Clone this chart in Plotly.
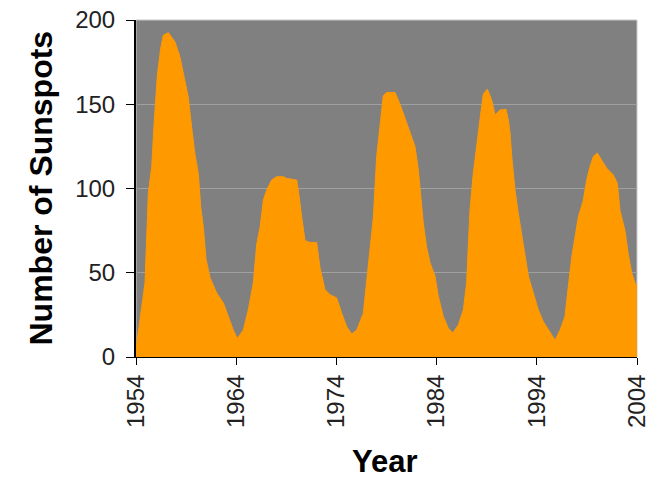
import plotly.graph_objects as go

years = [1954.0, 1954.07, 1954.40, 1954.90, 1955.23, 1955.57, 1955.80, 1956.13, 1956.46, 1956.73,
         1957.23, 1957.89, 1958.39, 1958.89, 1959.22, 1959.56, 1959.89, 1960.22, 1960.46, 1960.72,
         1960.99, 1961.39, 1962.05, 1962.72, 1963.21, 1963.71, 1964.11, 1964.71, 1965.21, 1965.71,
         1966.05, 1966.38, 1966.71, 1967.04, 1967.54, 1968.04, 1968.70, 1969.04, 1970.04, 1970.20,
         1970.54, 1970.87, 1971.37, 1972.03, 1972.36, 1972.86, 1973.36, 1974.03, 1974.53, 1975.03,
         1975.53, 1976.03, 1976.69, 1977.02, 1977.35, 1977.69, 1978.02, 1978.35, 1978.68, 1979.02,
         1979.85, 1980.35, 1980.85, 1981.35, 1981.84, 1982.18, 1982.34, 1982.68, 1983.01, 1983.34,
         1983.84, 1984.17, 1984.67, 1985.17, 1985.61, 1986.17, 1986.67, 1987.00, 1987.17, 1987.33,
         1987.66, 1988.00, 1988.33, 1988.66, 1989.06, 1989.50, 1989.83, 1990.33, 1990.93, 1991.16,
         1991.33, 1991.50, 1991.83, 1992.16, 1992.49, 1992.82, 1993.16, 1993.65, 1994.15, 1994.65,
         1995.15, 1995.82, 1996.32, 1996.81, 1997.15, 1997.48, 1997.81, 1998.14, 1998.64, 1998.98,
         1999.31, 1999.64, 2000.04, 2000.48, 2000.98, 2001.64, 2002.04, 2002.30, 2002.80, 2003.13,
         2003.47, 2003.80, 2004.0]
sunspots = [5, 8, 21, 44, 97, 113, 138, 167, 183, 191,
            192.5, 187, 178, 164, 154, 136, 120, 109, 89, 77,
            58, 47, 38, 32, 24, 16, 11, 16, 28, 44,
            67, 77, 93, 99, 105, 107, 107, 106, 105, 99,
            83, 69, 68, 68, 53, 40, 37, 35, 26, 18,
            13.6, 16, 26, 44, 63, 83, 119, 138, 155, 157,
            157, 150, 142, 133, 125, 111, 99, 79, 65, 56,
            48, 36, 24, 17, 14.3, 19, 28, 44, 67, 87,
            109, 127, 141, 156, 159, 152.5, 143.6, 146.6, 147, 140.6,
            133, 119, 99, 85, 73, 61, 48, 38, 28, 21,
            16, 10, 16, 24, 42, 59, 71, 83, 93, 105,
            113, 119, 121, 117, 112, 108, 103, 87, 75, 61,
            50, 44, 42]
x_ticks = [1954, 1964, 1974, 1984, 1994, 2004]
y_ticks = [0, 50, 100, 150, 200]

font_family = "Liberation Sans, Arial, sans-serif"

fig = go.Figure()
fig.add_trace(go.Scatter(
    x=years, y=sunspots, mode="lines", fill="tozeroy",
    line=dict(color="#FF9900", width=1), fillcolor="#FF9900",
    hoverinfo="skip", showlegend=False,
))

fig.update_layout(
    width=652, height=482,
    margin=dict(l=136, r=15, t=20, b=125),
    paper_bgcolor="white", plot_bgcolor="#808080",
    font=dict(family=font_family, color="black", size=24),
    xaxis=dict(
        range=[1954, 2004], tickvals=x_ticks, ticktext=[str(v) for v in x_ticks],
        tickangle=-90, ticks="outside", ticklen=7, tickcolor="black", tickwidth=1,
        showline=True, linecolor="black", linewidth=1, showgrid=False, zeroline=False,
        tickfont=dict(size=24, color="#222222"), automargin=False,
    ),
    yaxis=dict(
        range=[0, 200], tickvals=y_ticks, ticks="outside", ticklen=8,
        tickcolor="black", tickwidth=1, showline=True, linecolor="black", linewidth=2,
        showgrid=True, gridcolor="#A0A0A0", gridwidth=1, zeroline=False,
        tickfont=dict(size=24, color="#222222"), ticklabelstandoff=6, automargin=False,
    ),
    shapes=[dict(type="rect", xref="paper", yref="paper", x0=0, x1=1, y0=0, y1=1,
                 line=dict(color="#C8C8C8", width=1), layer="below")],
    annotations=[
        dict(text="<b>Number of Sunspots</b>", xref="paper", yref="paper",
             x=-0.1916, y=0.5, xanchor="center", yanchor="middle", textangle=-90,
             showarrow=False, font=dict(size=32, color="black", family=font_family)),
        dict(text="<b>Year</b>", xref="paper", yref="paper",
             x=0.497, y=-0.368, xanchor="center", yanchor="bottom",
             showarrow=False, font=dict(size=31, color="black", family=font_family)),
    ],
)

fig.write_html("out.html")
